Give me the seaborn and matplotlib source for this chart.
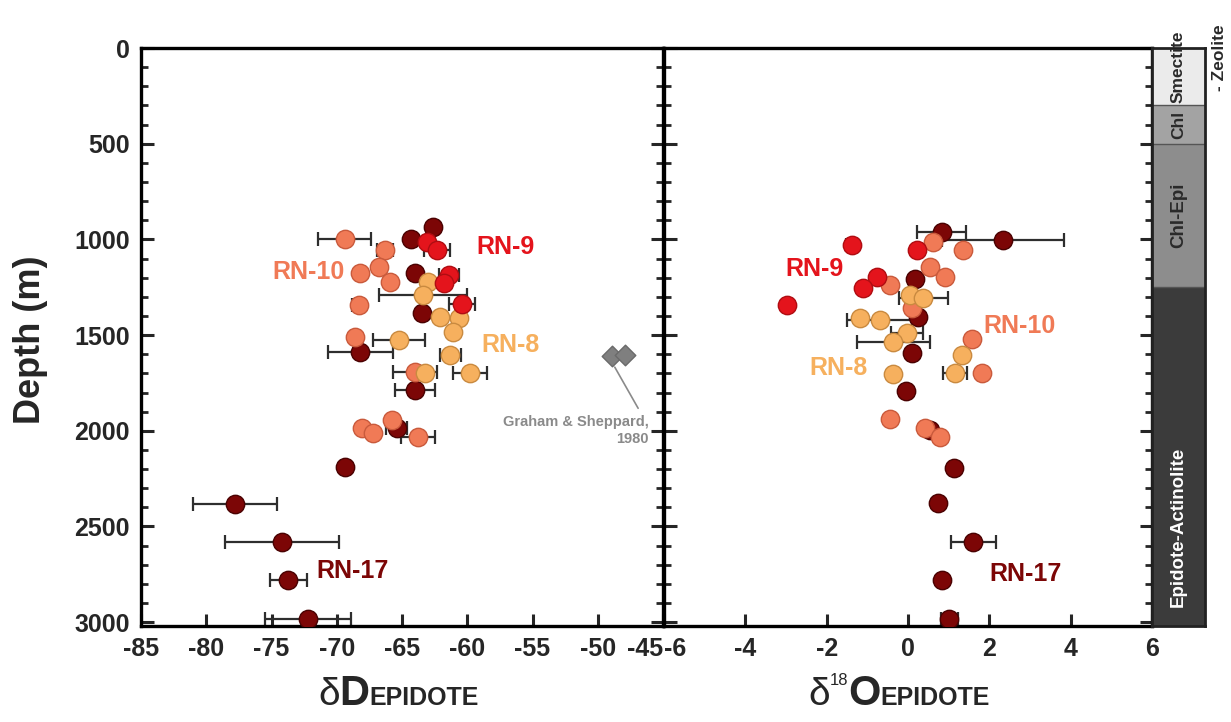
import numpy as np
import pandas as pd
import matplotlib
matplotlib.use("Agg")
import matplotlib.pyplot as plt
import seaborn as sns

# ---------------- data ----------------
wells = ["RN-17", "RN-10", "RN-8", "RN-9"]
well_colors = {"RN-9": "#e4141c", "RN-10": "#f07a56", "RN-8": "#f6b05e", "RN-17": "#7c0606"}
well_edges = {"RN-9": "#b00d12", "RN-10": "#c95a3c", "RN-8": "#c98a40", "RN-17": "#4a0202"}

# dD epidote (left panel)
rn9_dD = [-63.1, -62.3, -61.4, -61.8, -60.4]
rn9_dD_depth = [1012, 1056, 1187, 1230, 1335]
rn9_dD_err = [0, 1.0, 0.8, 0, 1.0]

rn10_dD = [-69.4, -66.3, -66.8, -68.2, -65.9, -68.3, -68.6, -64.0, -65.8, -68.1, -67.2, -63.8]
rn10_dD_depth = [1000, 1056, 1143, 1178, 1221, 1343, 1509, 1692, 1945, 1988, 2014, 2032]
rn10_dD_err = [2.0, 0.6, 0, 0.3, 0, 0.5, 0, 1.7, 0, 0, 0, 1.3]

rn8_dD = [-63.0, -63.4, -62.1, -60.6, -61.1, -65.2, -61.3, -63.2, -59.8]
rn8_dD_depth = [1221, 1291, 1404, 1413, 1483, 1526, 1605, 1697, 1697]
rn8_dD_err = [0, 3.4, 0, 0, 0.4, 2.0, 0.8, 0, 1.3]

rn17_dD = [-62.6, -64.3, -64.0, -63.5, -68.2, -64.0, -65.4, -69.4, -77.8, -74.2, -73.7, -72.2]
rn17_dD_depth = [936, 1000, 1178, 1387, 1588, 1788, 1988, 2188, 2380, 2581, 2781, 2985]
rn17_dD_err = [0, 0, 0, 0, 2.5, 1.5, 0.8, 0, 3.2, 4.4, 1.4, 3.3]

# d18O epidote (right panel)
rn9_d18O = [-1.38, 0.21, -0.77, -1.10, -2.98]
rn9_d18O_depth = [1030, 1056, 1195, 1256, 1343]
rn9_d18O_err = [0.15, 0, 0, 0, 0]

rn10_d18O = [0.62, 1.36, 0.54, 0.91, -0.44, 0.09, 1.57, 1.81, -0.44, 0.42, 0.79]
rn10_d18O_depth = [1012, 1056, 1143, 1195, 1239, 1361, 1518, 1697, 1941, 1988, 2032]
rn10_d18O_err = [0, 0, 0, 0.15, 0, 0, 0, 0, 0, 0, 0]

rn8_d18O = [0.05, 0.38, -1.18, -0.69, -0.03, -0.36, 1.32, -0.36, 1.16]
rn8_d18O_depth = [1291, 1308, 1413, 1422, 1491, 1535, 1605, 1704, 1700]
rn8_d18O_err = [0, 0.6, 0.1, 0.8, 0.4, 0.9, 0, 0, 0.3]

rn17_d18O = [0.83, 2.33, 0.17, 0.25, 0.11, -0.05, 0.54, 1.14, 0.74, 1.61, 0.83, 1.02]
rn17_d18O_depth = [960, 1004, 1207, 1404, 1596, 1791, 1997, 2197, 2376, 2581, 2778, 2985]
rn17_d18O_err = [0.6, 1.5, 0, 0, 0, 0, 0, 0, 0, 0.56, 0, 0.2]

# Graham & Sheppard (1980)
gs_dD = [-48.9, -47.9]
gs_depth = [1610, 1605]

# alteration zones
zone_names = ["Smectite", "Chl", "Chl-Epi", "Epidote-Actinolite"]
zone_top = [0, 300, 500, 1250]
zone_bottom = [300, 500, 1250, 3020]
zone_colors = ["#ebebeb", "#a3a3a3", "#8d8d8d", "#3b3b3b"]

y_ticks = [0, 500, 1000, 1500, 2000, 2500, 3000]
x_ticks_dD = [-85, -80, -75, -70, -65, -60, -55, -50, -45]
x_ticks_d18O = [-6, -4, -2, 0, 2, 4, 6]

# ---------------- frames ----------------
def frame(panel, series):
    rows = []
    for well, (vals, deps, errs) in series.items():
        for v, d, e in zip(vals, deps, errs):
            rows.append({"panel": panel, "well": well, "value": v, "depth": d, "err": e})
    return pd.DataFrame(rows)

df_dD = frame("dD", {"RN-9": (rn9_dD, rn9_dD_depth, rn9_dD_err),
                     "RN-10": (rn10_dD, rn10_dD_depth, rn10_dD_err),
                     "RN-8": (rn8_dD, rn8_dD_depth, rn8_dD_err),
                     "RN-17": (rn17_dD, rn17_dD_depth, rn17_dD_err)})
df_O = frame("d18O", {"RN-9": (rn9_d18O, rn9_d18O_depth, rn9_d18O_err),
                      "RN-10": (rn10_d18O, rn10_d18O_depth, rn10_d18O_err),
                      "RN-8": (rn8_d18O, rn8_d18O_depth, rn8_d18O_err),
                      "RN-17": (rn17_d18O, rn17_d18O_depth, rn17_d18O_err)})

# ---------------- style ----------------
sns.set_style("ticks")
plt.rcParams["font.family"] = ["Liberation Sans", "DejaVu Sans"]

fig = plt.figure(figsize=(12.31, 7.22), dpi=100)
W, H = 1231, 722
def rect(x0, x1, y0, y1):
    return [x0 / W, 1 - y1 / H, (x1 - x0) / W, (y1 - y0) / H]

axL = fig.add_axes(rect(141, 663, 48, 626))
axR = fig.add_axes(rect(664, 1152, 48, 626))
axZ = fig.add_axes(rect(1152, 1205, 48, 626))

def draw_panel(ax, df, xlim, xticks):
    for well in wells:
        sub = df[(df.well == well) & (df.err > 0)]
        if len(sub):
            ax.errorbar(sub.value, sub.depth, xerr=sub.err, fmt="none",
                        ecolor="#2e2e2e", elinewidth=1.6, capsize=5, capthick=1.6, zorder=2)
    for well in wells:
        sub = df[df.well == well]
        sns.scatterplot(data=sub, x="value", y="depth", color=well_colors[well],
                        edgecolor=well_edges[well], linewidth=1.0, s=175,
                        legend=False, ax=ax, zorder=3)
    ax.set_xlim(*xlim)
    ax.set_ylim(3020, 0)
    ax.set_xticks(xticks)
    ax.set_yticks(y_ticks)
    ax.set_yticks(np.arange(100, 3001, 100), minor=True)
    ax.set_xlabel("")
    ax.set_ylabel("")
    for s in ax.spines.values():
        s.set_linewidth(2.4)
        s.set_color("black")
    ax.tick_params(axis="both", which="major", direction="in", length=9, width=2.2,
                   labelsize=18, top=False, right=True, pad=8)
    ax.tick_params(axis="y", which="minor", direction="in", length=5, width=2.0, right=True)

draw_panel(axL, df_dD, (-85, -45), x_ticks_dD)
draw_panel(axR, df_O, (-6, 6), x_ticks_d18O)
axL.set_xticklabels([str(t) for t in x_ticks_dD], fontweight="bold", fontsize=18)
axL.set_yticklabels([str(t) for t in y_ticks], fontweight="bold", fontsize=18)
axR.set_yticklabels([])
axR.set_xticklabels([str(t) for t in x_ticks_d18O], fontweight="bold", fontsize=18)
axL.get_xticklabels()[-1].set_horizontalalignment("right")
axR.get_xticklabels()[0].set_horizontalalignment("left")

# Graham & Sheppard
axL.scatter(gs_dD, gs_depth, marker="D", s=110, color="#7f7f7f", edgecolor="#6a6a6a", zorder=3)
axL.annotate("", xy=(-48.8, 1655), xytext=(-46.8, 1895),
             arrowprops=dict(arrowstyle="-", color="#8a8a8a", lw=1.2))
axL.text(-46.1, 2000, "Graham & Sheppard,\n1980", ha="right", va="center",
         multialignment="right", fontsize=10.5, fontweight="bold", color="#8a8a8a",
         linespacing=1.25)

# well labels
labelsL = {"RN-9": (-57.1, 1038), "RN-10": (-72.2, 1169), "RN-8": (-56.7, 1550), "RN-17": (-68.8, 2734)}
labelsR = {"RN-9": (-2.29, 1153), "RN-10": (2.75, 1450), "RN-8": (-1.72, 1670), "RN-17": (2.88, 2750)}
for ax, labs in ((axL, labelsL), (axR, labelsR)):
    for well, (x, y) in labs.items():
        ax.text(x, y, well, color=well_colors[well], fontsize=18, fontweight="bold",
                ha="center", va="center")

# zone column
for t, b, c in zip(zone_top, zone_bottom, zone_colors):
    axZ.axhspan(t, b, color=c, lw=0)
    axZ.axhline(b, color="#555555", lw=1.0)
axZ.set_xlim(0, 1)
axZ.set_ylim(3020, 0)
axZ.set_xticks([])
axZ.set_yticks([])
for s in axZ.spines.values():
    s.set_linewidth(2.0)
    s.set_color("#222222")
axZ.text(0.5, 2500, zone_names[3], rotation=90, ha="center", va="center",
         fontsize=13.5, fontweight="bold", color="white")
axZ.text(0.5, 875, zone_names[2], rotation=90, ha="center", va="center",
         fontsize=13.5, fontweight="bold", color="#2a2a2a")
axZ.text(0.5, 400, zone_names[1], rotation=90, ha="center", va="center",
         fontsize=12.5, fontweight="bold", color="#2a2a2a")
axZ.text(0.5, 285, zone_names[0], rotation=90, ha="center", va="bottom",
         fontsize=12.5, fontweight="bold", color="#2a2a2a", clip_on=False)
fig.text(1219 / W, 1 - 58 / H, "- Zeolite", rotation=90, ha="center", va="center",
         fontsize=12.5, fontweight="bold", color="#2a2a2a")

# y label
fig.text(30 / W, 1 - 340 / H, "Depth (m)", rotation=90, ha="center", va="center",
         fontsize=26, fontweight="bold")

# x labels composed of pieces
fig.canvas.draw()
renderer = fig.canvas.get_renderer()

def compose(x_start_px, baseline_px, parts):
    x = x_start_px
    for txt, size, weight, dy in parts:
        t = fig.text(x / W, 1 - (baseline_px - dy) / H, txt, fontsize=size,
                     fontweight=weight, ha="left", va="baseline")
        bb = t.get_window_extent(renderer=renderer)
        x += bb.width

compose(318, 705, [("δ", 28, "normal", 0), ("D", 30, "bold", 0), ("EPIDOTE", 18, "bold", 0)])
compose(808, 705, [("δ", 28, "normal", 0), ("18", 12, "normal", 20), ("O", 30, "bold", 0),
                   ("EPIDOTE", 18, "bold", 0)])

fig.savefig("out.png", dpi=100)
